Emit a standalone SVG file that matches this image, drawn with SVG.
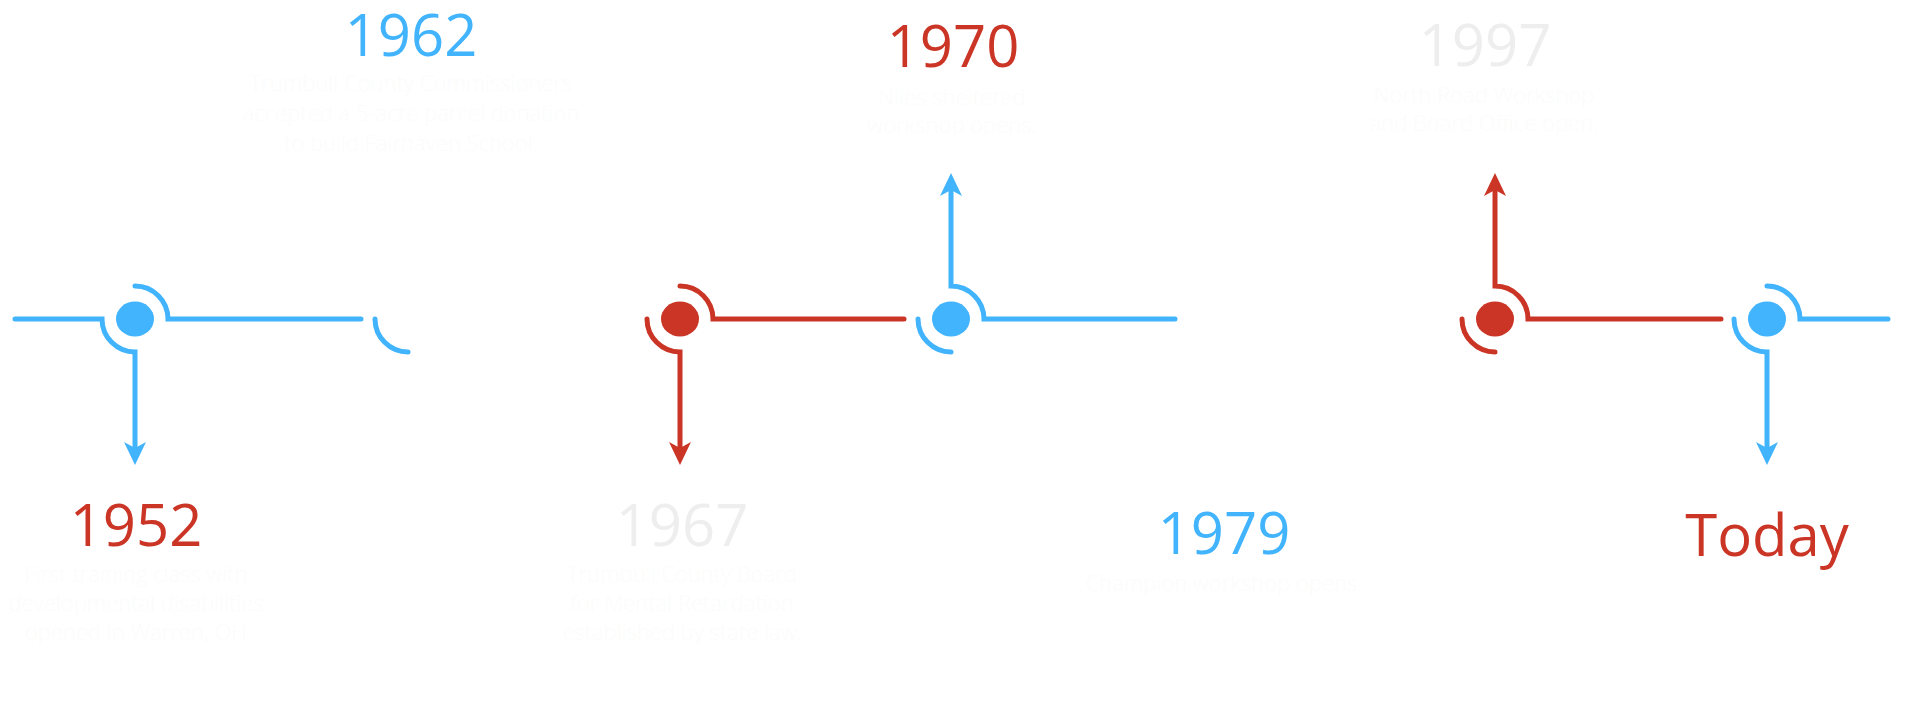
<svg xmlns="http://www.w3.org/2000/svg" width="1920" height="719" viewBox="0 0 1920 719">
<defs>
<style>
.b{stroke:#41b4fd;fill:none;stroke-width:5;stroke-linecap:round}
.r{stroke:#cb3526;fill:none;stroke-width:5;stroke-linecap:round}
.db{fill:#41b4fd}
.dr{fill:#cb3526}
.yr{font-family:"Open Sans","Liberation Sans",sans-serif;font-size:58px;font-weight:400;text-anchor:middle}
.ds{font-family:"Open Sans","Liberation Sans",sans-serif;font-size:22px;font-weight:300;text-anchor:middle;fill:#fcfcfc}
.tb{fill:#41b4fd}.tr{fill:#cb3526}.tg{fill:#eeeeee}
</style>
<marker id="ab" markerUnits="userSpaceOnUse" viewBox="0 0 23 22" markerWidth="23" markerHeight="22" refX="6" refY="11" orient="auto"><path d="M0,0 L23,11 L0,22 L6,11 Z" fill="#41b4fd"/></marker>
<marker id="ar" markerUnits="userSpaceOnUse" viewBox="0 0 23 22" markerWidth="23" markerHeight="22" refX="6" refY="11" orient="auto"><path d="M0,0 L23,11 L0,22 L6,11 Z" fill="#cb3526"/></marker>
</defs>
<rect width="1920" height="719" fill="#ffffff"/>
<g id="connectors">
<path class="b" d="M15,319 H102 A33,33 0 0 0 135,352 V448" marker-end="url(#ab)"/>
<path class="b" d="M135,286 A33,33 0 0 1 168,319 H361"/>
<path class="b" d="M375,319 A33,33 0 0 0 408,352"/>
<path class="r" d="M647,319 A33,33 0 0 0 680,352 V448" marker-end="url(#ar)"/>
<path class="r" d="M680,286 A33,33 0 0 1 713,319 H904"/>
<path class="b" d="M918,319 A33,33 0 0 0 951,352"/>
<path class="b" d="M1175,319 H984 A33,33 0 0 0 951,286 V190" marker-end="url(#ab)"/>
<path class="r" d="M1462,319 A33,33 0 0 0 1495,352"/>
<path class="r" d="M1721,319 H1528 A33,33 0 0 0 1495,286 V190" marker-end="url(#ar)"/>
<path class="b" d="M1734,319 A33,33 0 0 0 1767,352 V448" marker-end="url(#ab)"/>
<path class="b" d="M1767,286 A33,33 0 0 1 1800,319 H1888"/>
</g>
<g id="node-1952">
<ellipse class="db" cx="135" cy="319" rx="19" ry="17.5"/>
<text class="yr tr" x="136" y="546">1952</text>
<text class="ds" x="136" y="582">First training class with</text>
<text class="ds" x="136" y="611">developmental disabilities</text>
<text class="ds" x="136" y="640">opened in Warren, OH</text>
</g>
<g id="node-1962">
<text class="yr tb" x="411" y="56">1962</text>
<text class="ds" x="411" y="91">Trumbull County Commissioners</text>
<text class="ds" x="411" y="121">accepted a 5-acre parcel donation</text>
<text class="ds" x="411" y="151">to build Fairhaven School.</text>
</g>
<g id="node-1967">
<ellipse class="dr" cx="680" cy="319" rx="19" ry="17.5"/>
<text class="yr tg" x="682" y="546">1967</text>
<text class="ds" x="682" y="582">Trumbull County Board</text>
<text class="ds" x="682" y="611">for Mental Retardation</text>
<text class="ds" x="682" y="640">established by state law.</text>
</g>
<g id="node-1970">
<ellipse class="db" cx="951" cy="319" rx="19" ry="17.5"/>
<text class="yr tr" x="953" y="67">1970</text>
<text class="ds" x="952" y="105">Niles sheltered</text>
<text class="ds" x="952" y="133">workshop opens.</text>
</g>
<g id="node-1979">
<text class="yr tb" x="1224" y="554">1979</text>
<text class="ds" x="1224" y="591">Champion workshop opens.</text>
</g>
<g id="node-1997">
<ellipse class="dr" cx="1495" cy="319" rx="19" ry="17.5"/>
<text class="yr tg" x="1485" y="66">1997</text>
<text class="ds" x="1484" y="103">North Road Workshop</text>
<text class="ds" x="1484" y="131">and Board Office open.</text>
</g>
<g id="node-today">
<ellipse class="db" cx="1767" cy="319" rx="19" ry="17.5"/>
<text class="yr tr" x="1767" y="556">Today</text>
</g>
</svg>
